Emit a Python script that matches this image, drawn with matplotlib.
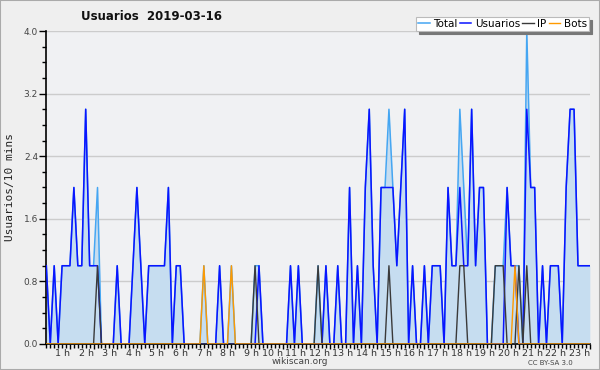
import matplotlib
matplotlib.use("Agg")
import matplotlib.pyplot as plt
from matplotlib.patches import Rectangle
from matplotlib.ticker import MultipleLocator

# one value per 10 minutes (00:00 .. 23:00)
usuarios = [
    1, 0, 1, 0, 1, 1, 1, 2, 1, 1, 3, 1, 1, 1, 0, 0, 0, 0, 1, 0,
    0, 0, 1, 2, 1, 0, 1, 1, 1, 1, 1, 2, 0, 1, 1, 0, 0, 0, 0, 0,
    0, 0, 0, 0, 1, 0, 0, 0, 0, 0, 0, 0, 0, 0, 1, 0, 0, 0, 0, 0,
    0, 0, 1, 0, 1, 0, 0, 0, 0, 0, 0, 1, 0, 0, 1, 0, 0, 2, 0, 1,
    0, 2, 3, 1, 0, 2, 2, 2, 2, 1, 2, 3, 0, 1, 0, 0, 1, 0, 1, 1,
    1, 0, 2, 1, 1, 2, 1, 1, 3, 1, 2, 2, 0, 0, 0, 0, 0, 2, 1, 1,
    0, 0, 3, 2, 2, 0, 1, 0, 1, 1, 1, 0, 2, 3, 3, 1, 1, 1, 1,
]
ip = [0] * 139
for i in (13, 53, 69, 87, 105, 106, 114, 115, 116, 120, 122):
    ip[i] = 1
bots = [0] * 139
for i in (40, 47, 119):
    bots[i] = 1
total = [u + p + b for u, p, b in zip(usuarios, ip, bots)]
total[119] = 1

hours = list(range(1, 24))
hour_labels = [f"{h} h" for h in hours]

C_TOTAL = "#45a6f2"
C_FILL = "#c6ddf0"
C_USERS = "#0a14ff"
C_IP = "#3a3a3a"
C_BOTS = "#ff9a00"

fig = plt.figure(figsize=(6.0, 3.7), dpi=100, facecolor="#efefef")
fig.patches.append(Rectangle((0, 0), 1, 1, transform=fig.transFigure,
                             fill=False, edgecolor="#aaaaaa", lw=1.5))
ax = fig.add_axes([0.0772, 0.0703, 0.9058, 0.8459])
ax.set_facecolor("#f0f1f3")

x = list(range(len(total)))
ax.fill_between(x, total, 0, color=C_FILL, lw=0, zorder=1)
ax.plot(x, total, color=C_TOTAL, lw=1.1, label="Total", zorder=2)
ax.plot(x, usuarios, color=C_USERS, lw=1.1, label="Usuarios", zorder=3)
ax.plot(x, ip, color=C_IP, lw=1.0, label="IP", zorder=4)
ax.plot(x, bots, color=C_BOTS, lw=1.0, label="Bots", zorder=5)

ax.set_xlim(0, 138)
ax.set_ylim(0, 4.0)

for s in ("top", "right"):
    ax.spines[s].set_visible(False)
for s in ("left", "bottom"):
    ax.spines[s].set_color("black")
    ax.spines[s].set_linewidth(1.2)

ax.set_yticks([0.0, 0.8, 1.6, 2.4, 3.2, 4.0])
ax.set_yticklabels(["0.0", "0.8", "1.6", "2.4", "3.2", "4.0"])
ax.yaxis.set_minor_locator(MultipleLocator(0.2))
ax.tick_params(axis="y", which="major", length=5, width=1, labelsize=6.5,
               labelcolor="#444444", pad=1)
ax.tick_params(axis="y", which="minor", length=3, width=1)
ax.grid(axis="y", which="major", color="#cccccc", lw=1, zorder=0)
ax.set_axisbelow(True)

ax.set_xticks([6 * h for h in hours])
ax.set_xticklabels(hour_labels)
for lab in ax.get_xticklabels():
    lab.set_horizontalalignment("right")
ax.xaxis.set_minor_locator(MultipleLocator(1))
ax.tick_params(axis="x", which="major", length=3.5, width=1, labelsize=6.8,
               labelcolor="#333333", pad=0)
ax.tick_params(axis="x", which="minor", length=3, width=1)

ax.set_ylabel("Usuarios/10 mins", family="DejaVu Sans Mono", fontsize=8,
              color="#222222", labelpad=6)
fig.text(0.252, 0.955, "Usuarios  2019-03-16", ha="center", va="center",
         fontsize=8.5, fontweight="bold", color="#111111")
fig.text(0.5, 0.022, "wikiscan.org", ha="center", va="center",
         fontsize=6.5, color="#444444")
fig.text(0.918, 0.018, "CC BY-SA 3.0", ha="center", va="center",
         fontsize=5, color="#444444")

leg = ax.legend(loc="upper right", bbox_to_anchor=(0.982, 0.955),
                bbox_transform=fig.transFigure, ncol=4, fontsize=7.5,
                frameon=True, fancybox=False, borderaxespad=0,
                handlelength=1.1, handletextpad=0.35, columnspacing=0.2,
                borderpad=0.22,
                shadow={"color": "#777777", "alpha": 1, "ox": 2.2, "oy": -2.2})
leg.get_frame().set_edgecolor("#bbbbbb")
leg.get_frame().set_linewidth(0.8)
leg.get_frame().set_facecolor("white")
leg.set_zorder(10)

fig.savefig("out.png", dpi=100, facecolor=fig.get_facecolor())
